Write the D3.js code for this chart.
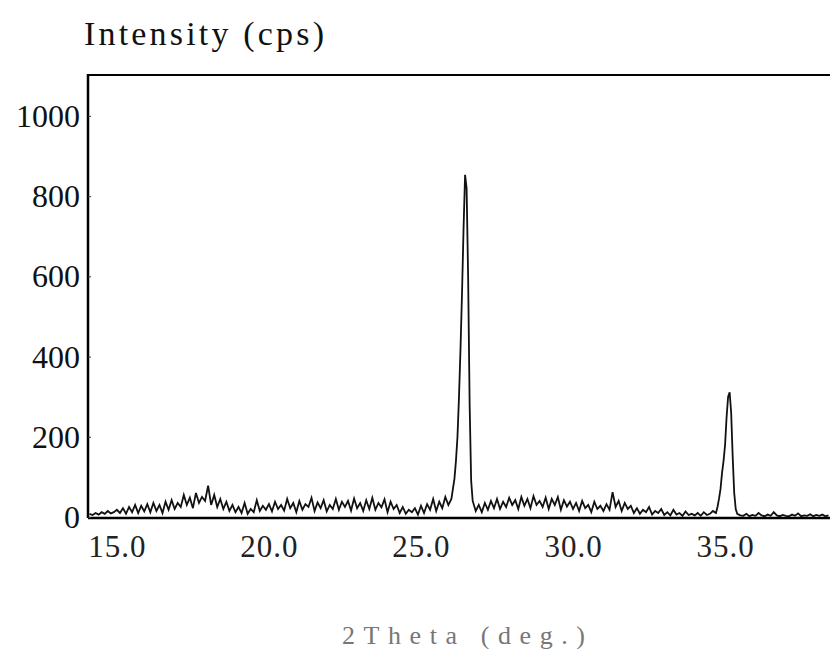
<!DOCTYPE html>
<html>
<head>
<meta charset="utf-8">
<script src="https://cdn.jsdelivr.net/npm/d3@7/dist/d3.min.js"></script>
<style>
  html, body { margin: 0; padding: 0; background: #fff; overflow: hidden; }
  svg { display: block; }
</style>
</head>
<body>
<svg id="chart" width="830" height="649"></svg>
<script>
// ---- data ----
const twoTheta = [
  14.1,14.2,14.3,14.4,14.5,14.6,14.7,14.8,14.9,15.0,
  15.1,15.2,15.3,15.4,15.5,15.6,15.7,15.8,15.9,16.0,
  16.1,16.2,16.3,16.4,16.5,16.6,16.7,16.8,16.9,17.0,
  17.1,17.2,17.3,17.4,17.5,17.6,17.7,17.8,17.9,18.0,
  18.1,18.2,18.3,18.4,18.5,18.6,18.7,18.8,18.9,19.0,
  19.1,19.2,19.3,19.4,19.5,19.6,19.7,19.8,19.9,20.0,
  20.1,20.2,20.3,20.4,20.5,20.6,20.7,20.8,20.9,21.0,
  21.1,21.2,21.3,21.4,21.5,21.6,21.7,21.8,21.9,22.0,
  22.1,22.2,22.3,22.4,22.5,22.6,22.7,22.8,22.9,23.0,
  23.1,23.2,23.3,23.4,23.5,23.6,23.7,23.8,23.9,24.0,
  24.1,24.2,24.3,24.4,24.5,24.6,24.7,24.8,24.9,25.0,
  25.1,25.2,25.3,25.4,25.5,25.6,25.7,25.8,25.9,26.0,
  26.05,26.1,26.15,26.2,26.25,26.3,26.35,26.4,26.45,26.5,26.55,26.6,26.65,26.7,
  26.8,26.9,27.0,
  27.1,27.2,27.3,27.4,27.5,27.6,27.7,27.8,27.9,28.0,
  28.1,28.2,28.3,28.4,28.5,28.6,28.7,28.8,28.9,29.0,
  29.1,29.2,29.3,29.4,29.5,29.6,29.7,29.8,29.9,30.0,
  30.1,30.2,30.3,30.4,30.5,30.6,30.7,30.8,30.9,31.0,
  31.1,31.2,31.3,31.4,31.5,31.6,31.7,31.8,31.9,32.0,
  32.1,32.2,32.3,32.4,32.5,32.6,32.7,32.8,32.9,33.0,
  33.1,33.2,33.3,33.4,33.5,33.6,33.7,33.8,33.9,34.0,
  34.1,34.2,34.3,34.4,34.5,34.6,34.7,
  34.75,34.8,34.85,34.9,34.95,35.0,35.05,35.1,35.15,35.2,35.25,35.3,35.35,35.4,
  35.5,35.6,35.7,35.8,35.9,36.0,
  36.1,36.2,36.3,36.4,36.5,36.6,36.7,36.8,36.9,37.0,
  37.1,37.2,37.3,37.4,37.5,37.6,37.7,37.8,37.9,38.0,
  38.1,38.2,38.3,38.4
];
const intensity = [
  8,5,10,6,12,8,15,9,12,18,
  10,22,8,25,12,30,10,28,14,32,
  12,35,15,30,10,38,18,42,20,35,
  25,55,30,48,22,60,35,50,40,78,
  30,55,25,45,20,38,15,30,12,25,
  10,35,8,20,12,42,15,28,18,32,
  14,38,20,30,16,45,22,35,12,40,
  18,32,25,48,15,36,22,42,14,30,
  20,45,18,38,25,40,16,46,22,35,
  15,42,20,48,18,35,24,44,12,38,
  20,30,10,25,8,18,12,22,6,28,
  10,32,18,45,15,38,22,50,30,45,
  70,95,140,200,300,420,560,720,853,820,600,280,90,40,
  15,30,12,
  35,18,40,22,45,20,38,25,48,30,
  42,20,50,28,45,22,52,30,40,25,
  48,20,45,30,50,18,42,26,38,20,
  35,15,40,22,30,12,38,20,28,15,
  32,18,62,25,40,15,35,20,28,10,
  22,8,18,12,25,6,15,10,20,5,
  12,4,18,6,10,3,14,5,8,4,
  10,3,12,5,8,15,10,
  25,45,70,110,140,180,250,300,311,260,150,60,20,8,
  4,3,8,2,5,3,
  10,4,2,6,3,12,4,2,5,3,
  2,6,3,9,2,4,3,7,2,5,
  3,6,2,4
];
const xTicks = [15, 20, 25, 30, 35];
const xTickLabels = ["15.0", "20.0", "25.0", "30.0", "35.0"];
const yTicks = [0, 200, 400, 600, 800, 1000];
const yTitle = "Intensity (cps)";
const xTitle = "2Theta (deg.)";

// ---- layout ----
const svg = d3.select("#chart");
const pL = 88, pR = 830, pT = 75, pB = 517;

const x = d3.scaleLinear().domain([14.05, 38.45]).range([pL, pR]);
const y = d3.scaleLinear().domain([0, 1102]).range([pB, pT]);

const serif = "'Liberation Serif', 'DejaVu Serif', serif";

// trace
const pts = twoTheta.map((t, i) => [t, intensity[i]]);
svg.append("path")
  .datum(pts)
  .attr("fill", "none")
  .attr("stroke", "#111")
  .attr("stroke-width", 1.8)
  .attr("stroke-linejoin", "miter")
  .attr("d", d3.line().x(d => x(d[0])).y(d => y(d[1])));

// frame: left, top, bottom
svg.append("line").attr("x1", pL).attr("x2", pL).attr("y1", pT - 1).attr("y2", pB + 1)
  .attr("stroke", "#000").attr("stroke-width", 2.5);
svg.append("line").attr("x1", pL).attr("x2", pR + 10).attr("y1", pT).attr("y2", pT)
  .attr("stroke", "#000").attr("stroke-width", 2);
svg.append("line").attr("x1", pL).attr("x2", pR + 10).attr("y1", pB + 1).attr("y2", pB + 1)
  .attr("stroke", "#000").attr("stroke-width", 2.5);

// y axis
const yAxis = d3.axisLeft(y).tickValues(yTicks).tickSize(-3).tickPadding(9).tickFormat(d3.format("d"));
const gy = svg.append("g").attr("transform", `translate(${pL},0)`).call(yAxis);
gy.select(".domain").remove();
gy.selectAll(".tick line").attr("stroke", "#333").attr("stroke-width", 1);
gy.selectAll(".tick text")
  .attr("font-family", serif).attr("font-size", 32).attr("fill", "#111")
  .attr("x", -8).attr("dy", "0.33em");

// x axis
const xAxis = d3.axisBottom(x).tickValues(xTicks).tickSize(0).tickPadding(0)
  .tickFormat((d, i) => xTickLabels[i]);
const gx = svg.append("g").attr("transform", `translate(0,${pB})`).call(xAxis);
gx.select(".domain").remove();
gx.selectAll(".tick text")
  .attr("font-family", serif).attr("font-size", 31).attr("fill", "#222")
  .attr("letter-spacing", 1)
  .attr("y", 40).attr("dy", 0);

// titles
svg.append("text")
  .attr("x", 84).attr("y", 45)
  .attr("font-family", serif).attr("font-size", 34).attr("fill", "#111")
  .attr("textLength", 240).attr("lengthAdjust", "spacing")
  .text(yTitle);

svg.append("text")
  .attr("x", 342).attr("y", 644)
  .attr("font-family", serif).attr("font-size", 26).attr("fill", "#777")
  .attr("textLength", 243).attr("lengthAdjust", "spacing")
  .text(xTitle);
</script>
</body>
</html>
